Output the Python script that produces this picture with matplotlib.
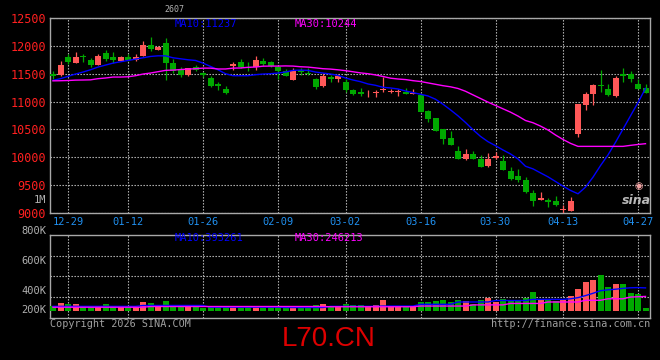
import matplotlib
matplotlib.use("Agg")
import matplotlib.pyplot as plt

# DATA - one candle per trading day, 12-25 .. 04-28 (80 days)
opens = [11494, 11482, 11798, 11696, 11821, 11738, 11661, 11863, 11804, 11732,
         11804, 11744, 11821, 12018, 11929, 12055, 11695, 11560, 11470, 11625,
         11512, 11429, 11316, 11232, 11631, 11702, 11619, 11625, 11732, 11702,
         11613, 11554, 11393, 11565, 11506, 11411, 11274, 11435, 11411, 11357,
         11214, 11167, 11149, 11155, 11202, 11167, 11167, 11173, 11143, 11113,
         10827, 10702, 10506, 10345, 10113, 9970, 10060, 9970, 9845, 9988,
         9935, 9756, 9667, 9595, 9363, 9238, 9238, 9214, 9060, 9042,
         10417, 10935, 11131, 11292, 11220, 11095, 11488, 11494, 11310, 11238]
highs = [11555, 11732, 11845, 11893, 11857, 11786, 11845, 11929, 11893, 11821,
         11845, 11857, 12089, 12161, 11994, 12143, 11756, 11613, 11607, 11649,
         11536, 11452, 11357, 11274, 11702, 11762, 11702, 11810, 11786, 11720,
         11625, 11589, 11601, 11607, 11607, 11415, 11512, 11482, 11488, 11405,
         11232, 11244, 11202, 11214, 11435, 11226, 11220, 11244, 11220, 11143,
         10845, 10708, 10506, 10476, 10202, 10155, 10113, 10042, 10077, 10095,
         10042, 9827, 9792, 9649, 9417, 9375, 9274, 9310, 9149, 9292,
         10952, 11173, 11321, 11560, 11321, 11458, 11595, 11542, 11411, 11321]
lows = [11400, 11464, 11673, 11685, 11714, 11613, 11650, 11720, 11685, 11726,
        11720, 11720, 11810, 11911, 11920, 11387, 11512, 11435, 11464, 11542,
        11440, 11268, 11214, 11143, 11560, 11601, 11554, 11571, 11643, 11625,
        11411, 11452, 11390, 11470, 11470, 11220, 11268, 11357, 11357, 11173,
        11113, 11095, 11083, 11083, 11179, 11155, 11095, 11131, 11131, 10810,
        10637, 10470, 10238, 10220, 9965, 9952, 9965, 9821, 9827, 9970,
        9775, 9595, 9560, 9363, 9119, 9226, 9107, 9131, 8990, 9036,
        10369, 10845, 10935, 11173, 11095, 11083, 11345, 11351, 11226, 11150]
closes = [11452, 11661, 11708, 11804, 11792, 11649, 11821, 11768, 11744, 11792,
          11750, 11804, 12018, 11946, 11982, 11700, 11545, 11470, 11601, 11571,
          11476, 11274, 11274, 11161, 11667, 11625, 11595, 11750, 11673, 11643,
          11554, 11464, 11542, 11536, 11488, 11256, 11464, 11405, 11464, 11214,
          11143, 11137, 11158, 11167, 11226, 11196, 11185, 11137, 11161, 10815,
          10690, 10476, 10327, 10226, 9970, 10060, 9970, 9827, 9970, 10024,
          9780, 9613, 9595, 9381, 9208, 9262, 9191, 9137, 9072, 9208,
          10952, 11131, 11292, 11280, 11119, 11417, 11464, 11399, 11232, 11155]
volumes_k = [80, 132, 115, 115, 57, 57, 57, 115, 80, 57,
             57, 57, 149, 132, 92, 167, 80, 57, 69, 57,
             52, 57, 57, 57, 57, 40, 57, 57, 40, 57,
             57, 57, 57, 40, 40, 98, 115, 80, 80, 115,
             98, 98, 57, 98, 184, 57, 57, 57, 57, 149,
             149, 167, 184, 155, 184, 167, 115, 184, 218, 149,
             201, 167, 184, 218, 322, 184, 184, 167, 184, 259,
             374, 494, 529, 615, 408, 454, 460, 305, 287, 46]
ma10 = [11381, 11411, 11452, 11494, 11530, 11571, 11619, 11655, 11690, 11714,
        11738, 11762, 11786, 11810, 11821, 11821, 11786, 11768, 11750, 11738,
        11690, 11631, 11571, 11500, 11464, 11464, 11464, 11482, 11494, 11500,
        11512, 11530, 11560, 11565, 11560, 11530, 11512, 11494, 11470, 11423,
        11387, 11357, 11316, 11292, 11256, 11244, 11226, 11190, 11161, 11131,
        11101, 11042, 10952, 10851, 10744, 10625, 10494, 10375, 10280, 10208,
        10131, 10060, 9970, 9839, 9792, 9720, 9649, 9566, 9482, 9405,
        9345, 9464, 9643, 9851, 10042, 10268, 10506, 10744, 10982, 11237]
ma30 = [11372, 11374, 11378, 11385, 11387, 11390, 11411, 11423, 11440, 11440,
        11445, 11464, 11494, 11512, 11536, 11560, 11565, 11575, 11583, 11590,
        11600, 11600, 11585, 11585, 11600, 11603, 11615, 11620, 11635, 11637,
        11637, 11640, 11637, 11625, 11619, 11605, 11590, 11583, 11570, 11555,
        11535, 11515, 11500, 11478, 11450, 11420, 11405, 11395, 11375, 11360,
        11335, 11310, 11285, 11265, 11235, 11185, 11120, 11055, 10990, 10930,
        10870, 10810, 10740, 10660, 10620, 10560, 10490, 10400, 10320, 10250,
        10196, 10196, 10196, 10196, 10196, 10196, 10196, 10214, 10230, 10244]
vol_ma10_k = [75, 75, 75, 75, 75, 75, 75, 75, 75, 75,
              75, 75, 90, 90, 90, 90, 90, 90, 90, 90,
              90, 60, 60, 60, 60, 60, 60, 60, 60, 60,
              60, 55, 55, 55, 55, 55, 55, 75, 75, 75,
              75, 75, 75, 75, 80, 80, 80, 80, 80, 110,
              110, 110, 110, 110, 150, 150, 150, 150, 150, 175,
              175, 175, 175, 175, 195, 195, 195, 195, 195, 205,
              225, 260, 300, 345, 360, 370, 385, 395, 398, 393]
vol_ma30_k = [60, 60, 60, 60, 60, 60, 60, 60, 60, 60,
              60, 60, 60, 72, 72, 72, 72, 72, 72, 72,
              72, 72, 72, 72, 72, 72, 72, 72, 72, 72,
              72, 72, 72, 72, 72, 72, 72, 68, 68, 68,
              68, 68, 68, 68, 68, 68, 68, 68, 68, 80,
              80, 80, 80, 80, 80, 80, 100, 100, 100, 100,
              100, 125, 125, 125, 125, 125, 150, 150, 150, 150,
              150, 180, 180, 180, 205, 205, 205, 235, 240, 246]

date_labels = ["12-29", "01-12", "01-26", "02-09", "03-02", "03-16", "03-30", "04-13", "04-27"]
date_index = [2, 10, 20, 30, 39, 49, 59, 68, 78]
price_ticks = [9000, 9500, 10000, 10500, 11000, 11500, 12000, 12500]
vol_labels = ["1M", "800K", "600K", "400K", "200K"]

#STYLE
RED = "#FF5858"
GREEN = "#00A800"
GRID = "#C8C8C8"
BORDER = "#A8A8A8"
MONO = "DejaVu Sans Mono"
W, H = 660, 360


def fx(x):
    return x / W


def fy(y):
    return 1 - y / H


fig = plt.figure(figsize=(6.6, 3.6), dpi=100, facecolor="black")
ax_p = fig.add_axes([fx(50), fy(213), 600 / W, 195 / H])
ax_v = fig.add_axes([fx(50), fy(318), 600 / W, 83.3 / H])

n = len(opens)
xs = list(range(n))
colors = [RED if c >= o else GREEN for o, c in zip(opens, closes)]

#PRICE PANEL
for i in xs:
    o, h, l, c = opens[i], highs[i], lows[i], closes[i]
    ax_p.vlines(i, l, h, color=colors[i], lw=0.9, zorder=3)
    body = max(abs(c - o), 12)
    ax_p.bar(i, body, bottom=min(o, c), width=0.8, color=colors[i],
             lw=0, zorder=4)

ax_p.plot(xs, ma10, color="#0000FF", lw=1.0, zorder=5)
ax_p.plot(xs, ma30, color="#FF00FF", lw=1.0, zorder=5)

ax_p.set_xlim(-0.4, 79.6)
ax_p.set_ylim(9000, 12500)
ax_p.set_yticks(price_ticks)
ax_p.set_yticklabels([str(t) for t in price_ticks], color="#FF2020",
                     fontsize=8.5, family=MONO)
ax_p.set_xticks(date_index)
ax_p.set_xticklabels(date_labels, color="#2090F0", fontsize=7.5, family=MONO)
ax_p.tick_params(length=0, pad=3)
ax_p.grid(True, color=GRID, lw=0.8, linestyle=(0, (1.2, 1.5)), zorder=1)

#VOLUME PANEL
vols = [v * 1000 for v in volumes_k]
ax_v.bar(xs, vols, width=0.8, color=colors, lw=0, zorder=3)
ax_v.plot(xs, [v * 1000 for v in vol_ma10_k], color="#0000FF", lw=1.0, zorder=5)
ax_v.plot(xs, [v * 1000 for v in vol_ma30_k], color="#FF00FF", lw=1.0, zorder=5)

vmin, vmax = -126e3, 1310e3
ax_v.set_xlim(-0.4, 79.6)
ax_v.set_ylim(vmin, vmax)
ax_v.set_yticks([vmin + (vmax - vmin) * k / 4 for k in (1, 2, 3)])
ax_v.set_yticklabels([])
ax_v.set_xticks(date_index)
ax_v.set_xticklabels([])
ax_v.tick_params(length=0)
ax_v.grid(True, color=GRID, lw=0.8, linestyle=(0, (1.2, 1.5)), zorder=1)

for ax in (ax_p, ax_v):
    ax.set_facecolor("black")
    ax.set_axisbelow(True)
    for s in ax.spines.values():
        s.set_color(BORDER)
        s.set_linewidth(1.0)

# volume axis labels (placed where sina draws them)
for lab, yy in zip(vol_labels, [200, 231, 261, 291, 310]):
    fig.text(fx(46), fy(yy), lab, color="#B0B0B0", fontsize=7.5, family=MONO,
             ha="right", va="center")

#TEXTS
fig.text(fx(174), fy(9), "2607", color="#B0B0B0", fontsize=6, family=MONO,
         ha="center", va="center")
fig.text(fx(175), fy(24), "MA10:%d" % ma10[-1], color="#0000FF", fontsize=7.5,
         family=MONO, va="center")
fig.text(fx(295), fy(24), "MA30:%d" % ma30[-1], color="#FF00FF", fontsize=7.5,
         family=MONO, va="center")
fig.text(fx(175), fy(238), "MA10:393261", color="#0000FF", fontsize=7.5,
         family=MONO, va="center")
fig.text(fx(295), fy(238), "MA30:246213", color="#FF00FF", fontsize=7.5,
         family=MONO, va="center")
fig.text(fx(50), fy(324), "Copyright 2026 SINA.COM", color="#A0A0A0",
         fontsize=7.3, family=MONO, va="center")
fig.text(fx(650), fy(324), "http://finance.sina.com.cn", color="#A0A0A0",
         fontsize=7.3, family=MONO, va="center", ha="right")
fig.text(fx(329), fy(339), "L70.CN", color="#DD0000", fontsize=20,
         family="Liberation Sans", ha="center", va="center")
fig.text(fx(636), fy(201), "sina", color="#B8B8B8", fontsize=9,
         fontweight="bold", style="italic", family="DejaVu Sans",
         ha="center", va="center")
fig.text(fx(639), fy(186), "\u25c9", color="#F0A0A0", fontsize=7,
         ha="center", va="center")

plt.savefig("out.png", dpi=100, facecolor="black")
